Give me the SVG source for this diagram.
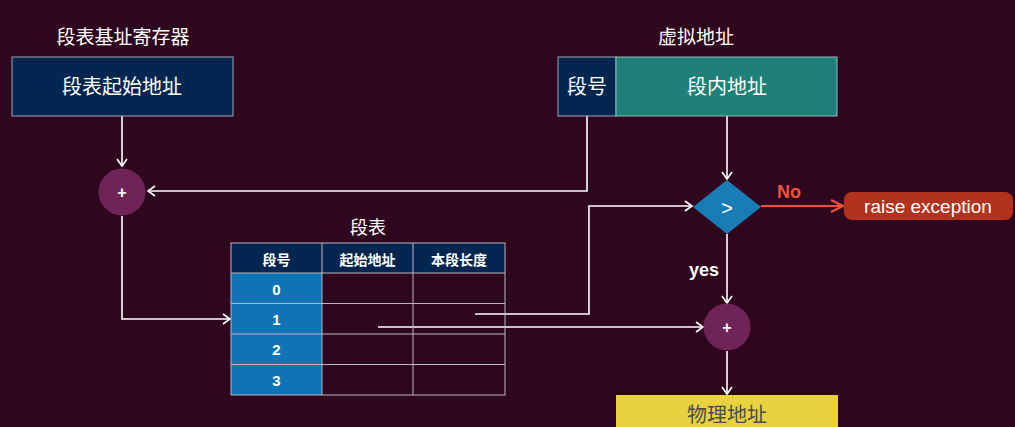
<svg xmlns="http://www.w3.org/2000/svg" width="1015" height="427" viewBox="0 0 1015 427">
<defs>
<marker id="arr" markerWidth="12" markerHeight="12" refX="9" refY="6" orient="auto" markerUnits="userSpaceOnUse">
<path d="M2,1 L9,6 L2,11" fill="none" stroke="#ffffff" stroke-width="1.6"/>
</marker>
<marker id="arrRed" markerWidth="16" markerHeight="16" refX="14" refY="8" orient="auto" markerUnits="userSpaceOnUse">
<path d="M2,2 L14,8 L2,14" fill="none" stroke="#f0503c" stroke-width="2.2"/>
</marker>
<style>
.cn{font-family:"Noto Sans CJK SC","Noto Sans",sans-serif;fill:#ffffff;font-weight:normal}
.lat{font-family:"Liberation Sans",Arial,sans-serif;font-weight:bold;fill:#ffffff}
.ln{fill:none;stroke:#ffffff;stroke-width:1.6}
.cell{fill:none;stroke:#bdb6bd;stroke-width:1}
.op{fill:#6e2457}
</style>
</defs>
<rect x="0" y="0" width="1015" height="427" fill="#2e061e"/>

<g id="connectors">
<path class="ln" d="M122,116 L122,166" marker-end="url(#arr)"/>
<path class="ln" d="M587,116 L587,191 L148,191" marker-end="url(#arr)"/>
<path class="ln" d="M122,216 L122,319 L230,319" marker-end="url(#arr)"/>
<path class="ln" d="M727,116 L727,179" marker-end="url(#arr)"/>
<path class="ln" d="M475,314 L589,314 L589,206 L692,206" marker-end="url(#arr)"/>
<path class="ln" d="M378,327 L703,327" marker-end="url(#arr)"/>
<path class="ln" d="M727,234 L727,303" marker-end="url(#arr)"/>
<path class="ln" d="M727,351 L727,394" marker-end="url(#arr)"/>
<path d="M761,206 L843,206" fill="none" stroke="#f0503c" stroke-width="2.2" marker-end="url(#arrRed)"/>
<text class="lat" x="789" y="198" font-size="18" text-anchor="middle" style="fill:#f0503c">No</text>
<text class="lat" x="704" y="276" font-size="18" text-anchor="middle">yes</text>
</g>

<g id="reg">
<text class="cn" x="123" y="44" font-size="19" text-anchor="middle">段表基址寄存器</text>
<rect x="12" y="57" width="221" height="59" fill="#032650" stroke="#9aa8b8" stroke-width="1"/>
<text class="cn" x="122" y="94" font-size="20" text-anchor="middle">段表起始地址</text>
</g>

<g id="vaddr">
<text class="cn" x="696" y="44" font-size="19" text-anchor="middle">虚拟地址</text>
<rect x="558" y="57" width="58" height="59" fill="#032650" stroke="#9aa8b8" stroke-width="1"/>
<text class="cn" x="587" y="94" font-size="20" text-anchor="middle">段号</text>
<rect x="616" y="57" width="221" height="59" fill="#1f8079" stroke="#9ab8b8" stroke-width="1"/>
<text class="cn" x="727" y="94" font-size="20" text-anchor="middle">段内地址</text>
</g>

<g id="add1">
<circle class="op" cx="122" cy="192" r="23.5"/>
<text class="lat" x="122" y="198" font-size="16" text-anchor="middle">+</text>
</g>

<g id="cmp">
<polygon points="693,207 727,180 761,207 727,234" fill="#1a7cb6"/>
<text x="727" y="215" font-family="Liberation Sans,Arial,sans-serif" font-size="20" fill="#ffffff" text-anchor="middle">&gt;</text>
</g>

<g id="exc">
<rect x="844" y="192" width="169" height="28" rx="8" fill="#b2321e"/>
<text x="928" y="213" font-family="Liberation Sans,Arial,sans-serif" font-size="19" fill="#ffffff" text-anchor="middle">raise exception</text>
</g>

<g id="table">
<text class="cn" x="368" y="234" font-size="18" text-anchor="middle">段表</text>
<rect x="231" y="243" width="274" height="30" fill="#032650"/>
<rect x="231" y="273" width="91" height="122" fill="#0f74b5"/>
<rect class="cell" x="231" y="243" width="274" height="152"/>
<path class="cell" d="M322,243 V395 M413,243 V395 M231,273 H505 M231,303.5 H505 M231,334 H505 M231,364.5 H505"/>
<text class="cn" x="276.5" y="265" font-size="14" style="font-weight:bold" text-anchor="middle">段号</text>
<text class="cn" x="367.5" y="265" font-size="14" style="font-weight:bold" text-anchor="middle">起始地址</text>
<text class="cn" x="459" y="265" font-size="14" style="font-weight:bold" text-anchor="middle">本段长度</text>
<text class="lat" x="276.5" y="295" font-size="15" text-anchor="middle">0</text>
<text class="lat" x="276.5" y="325" font-size="15" text-anchor="middle">1</text>
<text class="lat" x="276.5" y="355" font-size="15" text-anchor="middle">2</text>
<text class="lat" x="276.5" y="386" font-size="15" text-anchor="middle">3</text>
</g>

<g id="add2">
<circle class="op" cx="727" cy="327" r="23.5"/>
<text class="lat" x="727" y="333" font-size="16" text-anchor="middle">+</text>
</g>

<g id="paddr">
<rect x="616" y="395" width="222" height="40" fill="#e8d23f"/>
<text class="cn" x="727" y="422" font-size="20" text-anchor="middle" style="fill:#4a4a4a">物理地址</text>
</g>
</svg>
